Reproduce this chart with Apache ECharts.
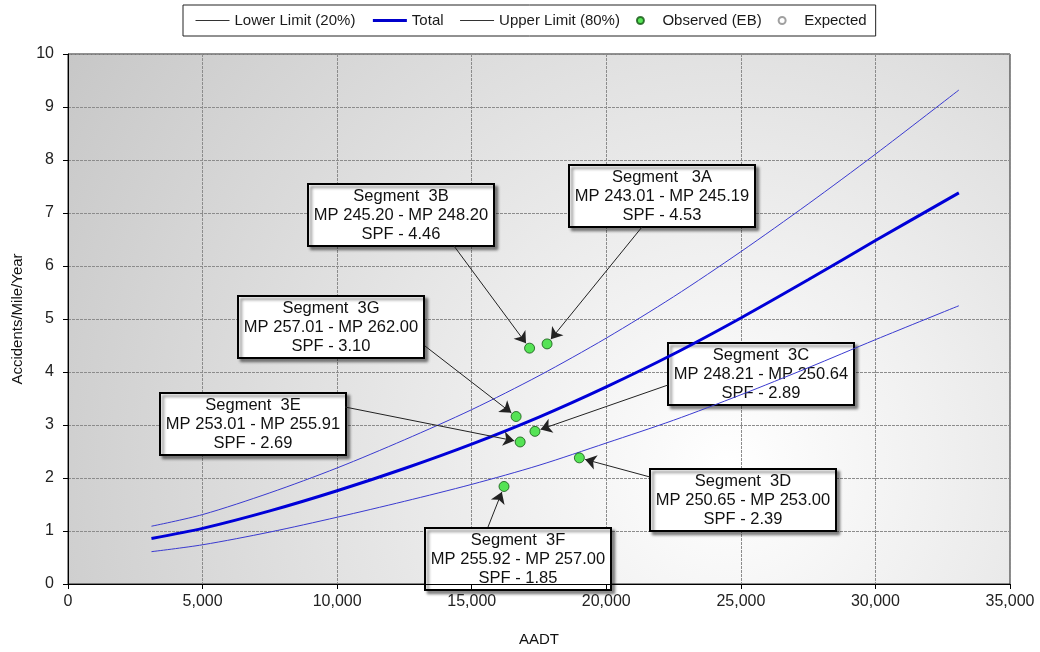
<!DOCTYPE html>
<html><head><meta charset="utf-8">
<script src="https://cdn.jsdelivr.net/npm/echarts@6/dist/echarts.min.js"></script>
<style>html,body{margin:0;padding:0;background:#fff}#c{width:1040px;height:652px}</style>
</head><body><div id="c"></div>
<script>
// ---- data ----
const aadt = [3100, 5000, 7500, 10000, 12500, 15000, 17500, 20000, 22500, 25000, 27500, 30000, 33100];
const lowerLimit = [0.61, 0.74, 0.98, 1.26, 1.56, 1.88, 2.24, 2.66, 3.09, 3.57, 4.08, 4.61, 5.25];
const total = [0.86, 1.05, 1.38, 1.76, 2.18, 2.64, 3.15, 3.72, 4.34, 5.02, 5.74, 6.48, 7.38];
const upperLimit = [1.09, 1.31, 1.72, 2.19, 2.72, 3.29, 3.93, 4.64, 5.42, 6.27, 7.17, 8.11, 9.32];
const segNames = ['3A', '3B', '3G', '3C', '3E', '3D', '3F'];
const segAADT = [17800, 17150, 16650, 17350, 16800, 19000, 16200];
const segObserved = [4.53, 4.45, 3.16, 2.88, 2.68, 2.38, 1.84];
const segMP = ['MP 243.01 - MP 245.19', 'MP 245.20 - MP 248.20', 'MP 257.01 - MP 262.00', 'MP 248.21 - MP 250.64',
               'MP 253.01 - MP 255.91', 'MP 250.65 - MP 253.00', 'MP 255.92 - MP 257.00'];
const segSPF = ['4.53', '4.46', '3.10', '2.89', '2.69', '2.39', '1.85'];
const expected = [];
const xTicks = [0, 5000, 10000, 15000, 20000, 25000, 30000, 35000];
const yTicks = [0, 1, 2, 3, 4, 5, 6, 7, 8, 9, 10];

// ---- annotation layout (pixels) ----
const boxLayout = [
  {l: 568, t: 164, spaces: '   ', ax: 642, ay: 227},
  {l: 307, t: 183, spaces: '  ', ax: 454, ay: 246},
  {l: 237, t: 295, spaces: '  ', ax: 425, ay: 346},
  {l: 667, t: 342, spaces: '  ', ax: 668, ay: 385},
  {l: 159, t: 392, spaces: '  ', ax: 345, ay: 407},
  {l: 649, t: 468, spaces: '  ', ax: 650, ay: 477},
  {l: 424, t: 527, spaces: '  ', ax: 488, ay: 527}
];
const BW = 186, BH = 62;

const FONT = '"Liberation Sans", Arial, sans-serif';
const chart = echarts.init(document.getElementById('c'), null, {renderer: 'canvas'});
const zip = (xs, ys) => xs.map((x, i) => [x, ys[i]]);
const rs = (w) => ({fontFamily: FONT, fontSize: 15, color: '#1a1a1a', width: w});
const legendSlot = {'Upper Limit (80%)': 'up', 'Observed (EB)': 'ob'};

const option = {
  animation: false,
  backgroundColor: '#ffffff',
  textStyle: {fontFamily: FONT},
  legend: {
    left: 183, top: 5,
    padding: [8, 9, 8, 12],
    itemGap: 16, itemWidth: 34, itemHeight: 7,
    borderColor: '#222', borderWidth: 1,
    textStyle: {fontFamily: FONT, fontSize: 15, color: '#1a1a1a', rich: {up: rs(139), ob: rs(132)}},
    formatter: name => legendSlot[name] ? '{' + legendSlot[name] + '|' + name + '}' : name,
    data: [
      {name: 'Lower Limit (20%)', lineStyle: {color: '#333', width: 1}, itemStyle: {opacity: 0}},
      {name: 'Total', lineStyle: {color: '#0000cc', width: 3}, itemStyle: {opacity: 0}},
      {name: 'Upper Limit (80%)', lineStyle: {color: '#333', width: 1}, itemStyle: {opacity: 0}},
      {name: 'Observed (EB)'},
      {name: 'Expected'}
    ]
  },
  grid: {
    left: 68, right: 30, top: 54, bottom: 67,
    show: true, borderColor: '#222', borderWidth: 1,
    backgroundColor: {type: 'radial', x: 0.7, y: 0.78, r: 1.6,
      colorStops: [{offset: 0, color: '#ffffff'}, {offset: 0.25, color: '#f0f0f0'}, {offset: 1, color: '#c2c2c2'}]}
  },
  xAxis: {
    type: 'value', min: xTicks[0], max: xTicks[xTicks.length - 1], interval: 5000,
    name: 'AADT', nameLocation: 'middle', nameGap: 48,
    nameTextStyle: {fontFamily: FONT, fontSize: 15, color: '#111'},
    axisLine: {show: true, lineStyle: {color: '#000', width: 1}},
    axisTick: {show: true, length: 5, lineStyle: {color: '#000'}},
    axisLabel: {fontFamily: FONT, fontSize: 16, color: '#222', margin: 10,
      formatter: v => v.toLocaleString('en-US')},
    splitLine: {show: true, lineStyle: {color: '#8c8c8c', width: 1, type: [3, 1]}}
  },
  yAxis: {
    type: 'value', min: yTicks[0], max: yTicks[yTicks.length - 1], interval: 1,
    name: 'Accidents/Mile/Year', nameLocation: 'middle', nameGap: 42,
    nameTextStyle: {fontFamily: FONT, fontSize: 15, color: '#111'},
    axisLine: {show: true, lineStyle: {color: '#000', width: 1}},
    axisTick: {show: true, inside: false, length: 5, lineStyle: {color: '#000'}},
    axisLabel: {fontFamily: FONT, fontSize: 16, color: '#222', margin: 14},
    splitLine: {show: true, lineStyle: {color: '#8c8c8c', width: 1, type: [3, 1]}}
  },
  series: [
    {name: 'Lower Limit (20%)', type: 'line', data: zip(aadt, lowerLimit), smooth: 0.3, symbol: 'none',
     lineStyle: {color: '#3a3ad0', width: 1}, itemStyle: {color: '#333'}, z: 2, silent: true},
    {name: 'Total', type: 'line', data: zip(aadt, total), smooth: 0.3, symbol: 'none',
     lineStyle: {color: '#0000d8', width: 3}, itemStyle: {color: '#0000cc'}, z: 3, silent: true},
    {name: 'Upper Limit (80%)', type: 'line', data: zip(aadt, upperLimit), smooth: 0.3, symbol: 'none',
     lineStyle: {color: '#3a3ad0', width: 1}, itemStyle: {color: '#333'}, z: 2, silent: true},
    {name: 'Observed (EB)', type: 'scatter', data: zip(segAADT, segObserved), symbol: 'circle', symbolSize: 10,
     itemStyle: {color: '#2ee02e', borderColor: '#145514', borderWidth: 1}, z: 6, silent: true},
    {name: 'Expected', type: 'scatter', data: expected, symbol: 'emptyCircle', symbolSize: 7,
     itemStyle: {color: '#888', borderColor: '#888', borderWidth: 1}, z: 6, silent: true},
    {name: 'arrows', type: 'line', data: [], z: 5, silent: true,
     markLine: {silent: true, symbol: ['none', 'arrow'], symbolSize: 11, label: {show: false},
       lineStyle: {color: '#222', width: 1, type: 'solid'}, emphasis: {disabled: true}, animation: false, data: []}}
  ]
};
chart.setOption(option);

// arrows & callout boxes, positioned from the data through the chart's own scales
const arrowData = [];
const graphics = [];
segNames.forEach((s, i) => {
  const L = boxLayout[i];
  const p = chart.convertToPixel({seriesIndex: 3}, [segAADT[i], segObserved[i]]);
  const dx = p[0] - L.ax, dy = p[1] - L.ay, d = Math.hypot(dx, dy);
  const r = 6;
  arrowData.push([{x: L.ax, y: L.ay}, {x: p[0] - dx / d * r, y: p[1] - dy / d * r}]);
  graphics.push({
    type: 'group', left: L.l, top: L.t, z: 100,
    children: [
      {type: 'rect', shape: {x: 0, y: 0, width: BW, height: BH},
       style: {fill: '#fff', stroke: '#000', lineWidth: 2, shadowColor: 'rgba(0,0,0,0.45)', shadowBlur: 3, shadowOffsetX: 3, shadowOffsetY: 3}},
      {type: 'text', x: BW / 2, y: BH / 2,
       style: {text: 'Segment' + L.spaces + s + '\n' + segMP[i] + '\nSPF - ' + segSPF[i],
         font: '16.5px ' + FONT, fill: '#111', align: 'center', verticalAlign: 'middle', lineHeight: 19}}
    ]
  });
});
chart.setOption({series: [{}, {}, {}, {}, {}, {markLine: {data: arrowData}}], graphic: graphics});
</script>
</body></html>
